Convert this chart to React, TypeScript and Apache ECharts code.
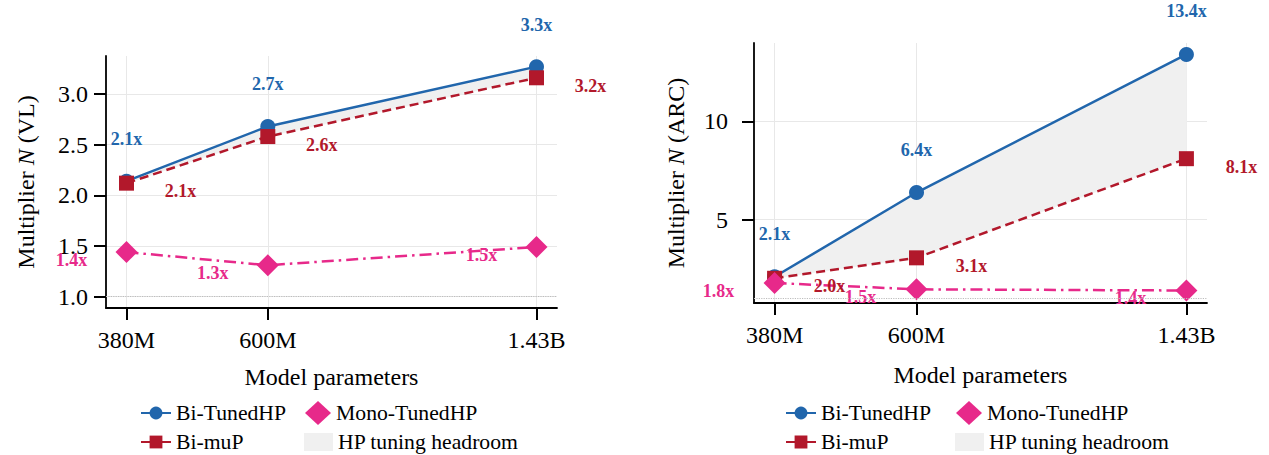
import React, { useEffect, useRef } from 'react';
import * as echarts from 'echarts';

// Model sizes (millions of parameters) and their tick labels
const sizeLabels = ['380M', '600M', '1.43B'];
const paramsM = [380, 600, 1430];

// Left panel: multiplier N on VL
const vlBiTuned = [2.14, 2.68, 3.27];
const vlBiMup = [2.12, 2.58, 3.16];
const vlMonoTuned = [1.44, 1.31, 1.49];

// Right panel: multiplier N on ARC
const arcBiTuned = [2.1, 6.38, 13.4];
const arcBiMup = [2.02, 3.06, 8.1];
const arcMonoTuned = [1.78, 1.46, 1.4];

const vlTicks = [1.0, 1.5, 2.0, 2.5, 3.0];
const arcTicks = [5, 10];

const BLUE = '#2166ac';
const RED = '#b2182b';
const PINK = '#e7298a';
const BAND = '#f0f0f0';
const FONT = "'Liberation Serif', 'Times New Roman', 'DejaVu Serif', serif";

const logX = paramsM.map((p) => Math.log10(p));
const xSpan = logX[logX.length - 1] - logX[0];
const xMin = logX[0] - 0.05 * xSpan;
const xMax = logX[logX.length - 1] + 0.05 * xSpan;

const sizeLabelFor = (v: number) => {
  let best = 0;
  logX.forEach((x, i) => {
    if (Math.abs(x - v) < Math.abs(logX[best] - v)) best = i;
  });
  return sizeLabels[best];
};

const xAxisFor = (gridIndex: number, nameGap: number) => ({
  type: 'value',
  gridIndex,
  min: xMin,
  max: xMax,
  name: 'Model parameters',
  nameLocation: 'middle',
  nameGap,
  nameTextStyle: { fontFamily: FONT, fontSize: 24, color: '#000' },
  axisLine: { show: true, onZero: false, lineStyle: { color: '#000', width: 1.8 } },
  axisTick: { show: true, length: 12, customValues: logX, lineStyle: { color: '#000', width: 2 } },
  axisLabel: {
    customValues: logX,
    formatter: (v: number) => sizeLabelFor(v),
    fontFamily: FONT,
    fontSize: 24,
    color: '#000',
    margin: 20,
  },
  splitLine: { show: true, lineStyle: { color: '#e8e8e8', width: 1 } },
});

const yAxisFor = (
  gridIndex: number,
  min: number,
  max: number,
  ticks: number[],
  tag: string,
  nameGap: number,
  labelMargin: number,
  fmt: (v: number) => string
) => ({
  type: 'value',
  gridIndex,
  min,
  max,
  name: `{t|Multiplier }{i|N}{t| (${tag})}`,
  nameLocation: 'middle',
  nameGap,
  nameTextStyle: {
    fontFamily: FONT,
    fontSize: 24,
    color: '#000',
    rich: {
      t: { fontFamily: FONT, fontSize: 24, color: '#000' },
      i: { fontFamily: FONT, fontSize: 24, color: '#000', fontStyle: 'italic' },
    },
  },
  axisLine: { show: true, onZero: false, lineStyle: { color: '#000', width: 1.8 } },
  axisTick: { show: true, length: 12, customValues: ticks, lineStyle: { color: '#000', width: 2 } },
  axisLabel: {
    customValues: ticks,
    formatter: fmt,
    fontFamily: FONT,
    fontSize: 24,
    color: '#000',
    margin: labelMargin,
  },
  splitLine: { show: true, lineStyle: { color: '#e8e8e8', width: 1 } },
});

// Shaded gap between the tuned and muP curves
const bandSeries = (idx: number, hi: number[], lo: number[]) => ({
  type: 'custom',
  name: 'HP tuning headroom',
  xAxisIndex: idx,
  yAxisIndex: idx,
  silent: true,
  z: 1,
  itemStyle: { color: BAND },
  data: logX.map((x, i) => [x, hi[i], lo[i]]),
  encode: { x: 0, y: [1, 2] },
  renderItem: (params: any, api: any) => {
    const i = params.dataIndex;
    if (i >= logX.length - 1) return { type: 'group', children: [] };
    const pts = [
      api.coord([logX[i], hi[i]]),
      api.coord([logX[i + 1], hi[i + 1]]),
      api.coord([logX[i + 1], lo[i + 1]]),
      api.coord([logX[i], lo[i]]),
    ];
    return { type: 'polygon', shape: { points: pts }, style: { fill: BAND, stroke: BAND, lineWidth: 0.5 } };
  },
});

const lineSeries = (
  name: string,
  idx: number,
  vals: number[],
  color: string,
  lineType: any,
  symbol: string,
  symbolSize: number,
  labelOffset: number[],
  extra: any = {}
) => ({
  type: 'line',
  name,
  xAxisIndex: idx,
  yAxisIndex: idx,
  data: logX.map((x, i) => [x, vals[i]]),
  symbol,
  symbolSize,
  showAllSymbol: true,
  z: 3,
  lineStyle: { color, width: 2.5, type: lineType },
  itemStyle: { color },
  label: {
    show: true,
    position: 'inside',
    offset: labelOffset,
    color,
    fontFamily: FONT,
    fontWeight: 'bold',
    fontSize: 18,
    textBorderWidth: 0,
    textBorderColor: 'transparent',
    formatter: (p: any) => `${p.value[1].toFixed(1)}x`,
  },
  ...extra,
});

const refLine = {
  silent: true,
  symbol: 'none',
  label: { show: false },
  lineStyle: { type: 'dotted', color: '#bdbdbd', width: 1.2 },
  data: [{ yAxis: 1 }],
};

const legendItem = (name: string, left: number, center: number, w: number, h: number, dataItem: any) => ({
  left,
  top: center - Math.max(h, 22) / 2,
  padding: 0,
  orient: 'horizontal',
  selectedMode: false,
  itemWidth: w,
  itemHeight: h,
  textStyle: { fontFamily: FONT, fontSize: 21.7, color: '#000' },
  data: [{ name, ...dataItem }],
});

const legendsFor = (c1: number, c2: number, rowA: number, rowB: number) => [
  legendItem('Bi-TunedHP', c1, rowA, 30, 16, {}),
  legendItem('Bi-muP', c1, rowB, 30, 16, { lineStyle: { type: 'solid' } }),
  legendItem('Mono-TunedHP', c2 + 1, rowA, 26, 24, { icon: 'diamond' }),
  legendItem('HP tuning headroom', c2, rowB, 29, 18, { icon: 'rect', itemStyle: { color: BAND } }),
];

const dashDot = [12, 5, 2.5, 5];

export default function App() {
  const ref = useRef<HTMLDivElement>(null);

  useEffect(() => {
    if (!ref.current) return;
    const chart = echarts.init(ref.current, null, { renderer: 'svg' });
    chart.setOption({
      animation: false,
      backgroundColor: '#ffffff',
      grid: [
        { left: 106, top: 56, width: 451, height: 252 },
        { left: 754, top: 43, width: 453, height: 260 },
      ],
      xAxis: [xAxisFor(0, 57), xAxisFor(1, 60)],
      yAxis: [
        yAxisFor(0, 0.888, 3.375, vlTicks, 'VL', 68, 18, (v) => v.toFixed(1)),
        yAxisFor(1, 0.764, 13.98, arcTicks, 'ARC', 66, 26, (v) => String(v)),
      ],
      legend: [...legendsFor(140, 304, 413, 442), ...legendsFor(785, 955, 413, 442)],
      series: [
        bandSeries(0, vlBiTuned, vlBiMup),
        lineSeries('Bi-TunedHP', 0, vlBiTuned, BLUE, 'solid', 'circle', 15, [0, -42], { markLine: refLine }),
        lineSeries('Bi-muP', 0, vlBiMup, RED, [9, 5], 'rect', 15, [54, 8]),
        lineSeries('Mono-TunedHP', 0, vlMonoTuned, PINK, dashDot, 'diamond', 22, [-55, 8]),
        bandSeries(1, arcBiTuned, arcBiMup),
        lineSeries('Bi-TunedHP', 1, arcBiTuned, BLUE, 'solid', 'circle', 15, [0, -43], { markLine: refLine }),
        lineSeries('Bi-muP', 1, arcBiMup, RED, [9, 5], 'rect', 15, [55, 8]),
        lineSeries('Mono-TunedHP', 1, arcMonoTuned, PINK, dashDot, 'diamond', 22, [-56, 8]),
      ],
    });
    return () => chart.dispose();
  }, []);

  return (
    <div
      ref={ref}
      style={{ position: 'absolute', left: 0, top: 0, width: 1269, height: 455, background: '#fff' }}
    />
  );
}
